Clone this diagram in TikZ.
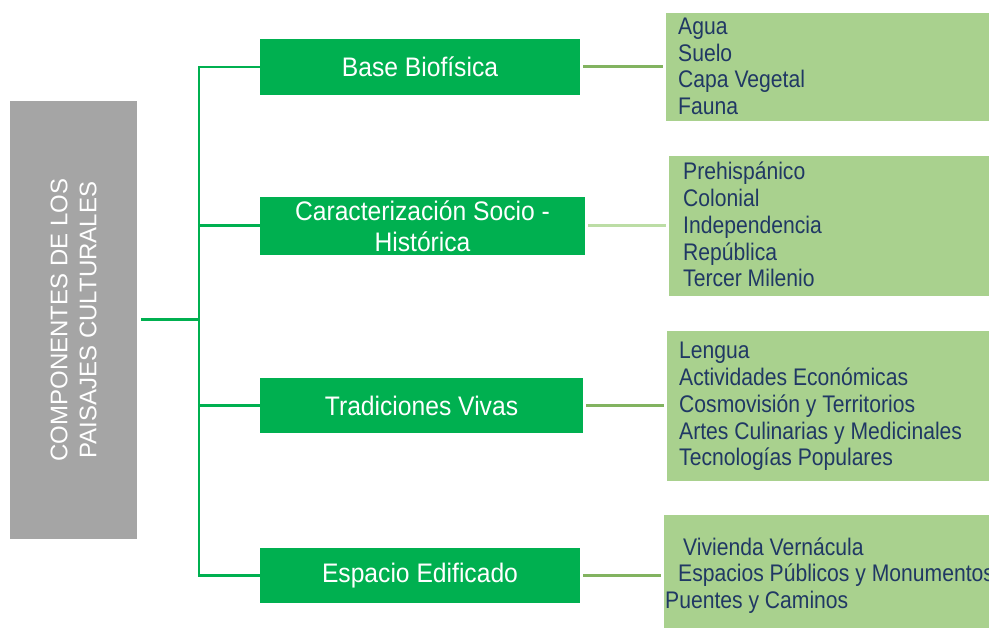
\documentclass[tikz,border=0pt]{standalone}
\usepackage{fontspec}
\setmainfont{Liberation Sans}
\newfontfamily\catfont[FakeStretch=0.92]{Liberation Sans}
\newfontfamily\itemfont[FakeStretch=0.88]{Liberation Sans}
\definecolor{boxgreen}{HTML}{00B050}
\definecolor{lightgreen}{HTML}{A9D18E}
\definecolor{navy}{HTML}{203864}
\definecolor{greybox}{HTML}{A5A5A5}
\definecolor{linkA}{HTML}{82B360}
\definecolor{linkB}{HTML}{BCDDA5}
\tikzset{
  catbox/.style={fill=boxgreen, draw=none, text=white, inner sep=0pt,
    font=\catfont\fontsize{26.8}{31}\selectfont, align=center},
  itembox/.style={fill=lightgreen, draw=none, inner sep=0pt, anchor=north west},
  itemtext/.style={text=navy, inner sep=0pt, anchor=base west,
    font=\itemfont\fontsize{24}{26.7}\selectfont},
  spine/.style={draw=boxgreen, line width=3pt},
  link/.style={line width=3pt, shorten <=3pt, shorten >=3pt},
}
\begin{document}
\begin{tikzpicture}[x=1pt,y=-1pt]
\useasboundingbox (0,0) rectangle (989,628);
% root
\node[fill=greybox, draw=none, rotate=90, minimum width=438pt, minimum height=127pt,
  inner sep=0pt, text=white, align=center, font=\fontsize{24}{29}\selectfont]
  (root) at (73.5,320) {COMPONENTES DE LOS\\PAISAJES CULTURALES};
% categories
\node[catbox, minimum width=320pt, minimum height=56pt] (b1) at (420,67) {Base Biofísica};
\node[catbox, minimum width=325pt, minimum height=58pt] (b2) at (422.5,226) {Caracterización Socio -\\Histórica};
\node[catbox, minimum width=323pt, minimum height=55pt] (b3) at (421.5,405.5) {Tradiciones Vivas};
\node[catbox, minimum width=320pt, minimum height=55pt] (b4) at (420,575.5) {Espacio Edificado};
% item boxes
\node[itembox, minimum width=330pt, minimum height=108pt] (r1) at (666,13) {};
\node[itembox, minimum width=330pt, minimum height=140pt] (r2) at (669,156) {};
\node[itembox, minimum width=330pt, minimum height=150pt] (r3) at (667,331) {};
\node[itembox, minimum width=330pt, minimum height=120pt] (r4) at (664,515) {};
% items
\node[itemtext] (i11) at (678,35) {Agua};
\node[itemtext] (i12) at (678,61.5) {Suelo};
\node[itemtext] (i13) at (678,88) {Capa Vegetal};
\node[itemtext] (i14) at (678,114.5) {Fauna};
\node[itemtext] (i21) at (683,180) {Prehispánico};
\node[itemtext] (i22) at (683,206.7) {Colonial};
\node[itemtext] (i23) at (683,233.4) {Independencia};
\node[itemtext] (i24) at (683,260.1) {República};
\node[itemtext] (i25) at (683,286.8) {Tercer Milenio};
\node[itemtext] (i31) at (679,359) {Lengua};
\node[itemtext] (i32) at (679,385.7) {Actividades Económicas};
\node[itemtext] (i33) at (679,412.4) {Cosmovisión y Territorios};
\node[itemtext] (i34) at (679,439.1) {Artes Culinarias y Medicinales};
\node[itemtext] (i35) at (679,465.8) {Tecnologías Populares};
\node[itemtext] (i41) at (683,555) {Vivienda Vernácula};
\node[itemtext] (i42) at (678,581.7) {Espacios Públicos y Monumentos};
\node[itemtext] (i43) at (665,608.4) {Puentes y Caminos};
% tree connectors
\coordinate (j) at (199,320);
\draw[spine, shorten <=4pt] (root.south) -- (j);
\draw[spine, line width=2.5pt] (b1.west) -| (j) |- (b4.west);
\draw[spine] (j |- b2.west) -- (b2.west);
\draw[spine] (j |- b3.west) -- (b3.west);
% item connectors
\draw[link, draw=linkA] (b1.east) -- (b1.east -| r1.west);
\draw[link, draw=linkB] (b2.east) -- (b2.east -| r2.west);
\draw[link, draw=linkA] (b3.east) -- (b3.east -| r3.west);
\draw[link, draw=linkA] (b4.east) -- (b4.east -| r4.west);
\end{tikzpicture}
\end{document}
